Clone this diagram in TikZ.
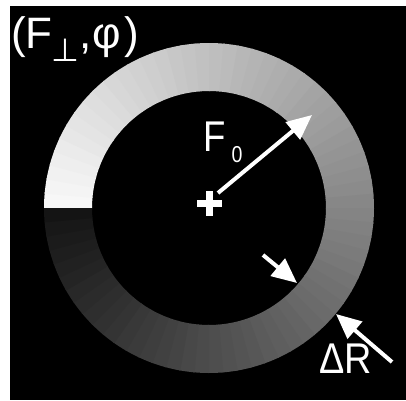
\documentclass[tikz,border=0pt]{standalone}
\usepackage{fontspec}
\setmainfont{Liberation Sans}
\newfontfamily\symfont{DejaVu Sans}
\usetikzlibrary{arrows.meta}
\begin{document}
\begin{tikzpicture}[x=1pt,y=1pt,
  lbl/.style={text=white, inner sep=0pt, font=\fontsize{43}{43}\selectfont},
  sublbl/.style={text=white, inner sep=0pt, font=\fontsize{23}{23}\selectfont},
  arr/.style={white, line width=4pt, -{Triangle[length=25pt,width=22pt]}}]
\useasboundingbox (0,0) rectangle (406,400);
\fill[white] (0,0) rectangle (406,400);
\fill[black] (10,0) rectangle (406,394);
% ring
\begin{scope}[shift={(209,192)}]
\foreach \i in {0,...,71}{
  \pgfmathsetmacro\a{180-5*\i}
  \pgfmathsetmacro\b{max(\a-5.5,-180)}
  \pgfmathsetmacro\g{97-89*\i/71}
  \fill[white!\g!black] (\a:165) arc[start angle=\a, end angle=\b, radius=165]
     -- (\b:117) arc[start angle=\b, end angle=\a, radius=117] -- cycle;
}
\end{scope}
% centre cross
\coordinate (c) at (209.5,197);
\draw[white, line width=7pt] ([xshift=-12.5pt]c) -- ([xshift=12.5pt]c);
\draw[white, line width=7pt] ([yshift=-12.5pt]c) -- ([yshift=12.5pt]c);
% arrows
\coordinate (f0s) at (218,207);
\coordinate (f0e) at (312,285);
\draw[arr] (f0s) -- (f0e);
\coordinate (ins) at (263,145);
\coordinate (ine) at (297,117);
\draw[arr] (ins) -- (ine);
\coordinate (dRs) at (392,38);
\coordinate (dRe) at (336,86);
\draw[arr] (dRs) -- (dRe);
% labels
\node[lbl] (F0) at (215,263) {\scalebox{0.85}[1]{F}};
\node[sublbl] (F0s) at (237,245) {\scalebox{0.85}[1]{0}};
\node[lbl] (dR) at (346,41) {\scalebox{0.88}[1]{ΔR}};
\node[lbl, anchor=west, font=\fontsize{44}{44}\selectfont] (title) at (11,361)
  {(F\kern-1pt\raisebox{-13pt}{\symfont\fontsize{32}{32}\selectfont ⊥},\kern1pt φ\kern3pt)};
\end{tikzpicture}
\end{document}
